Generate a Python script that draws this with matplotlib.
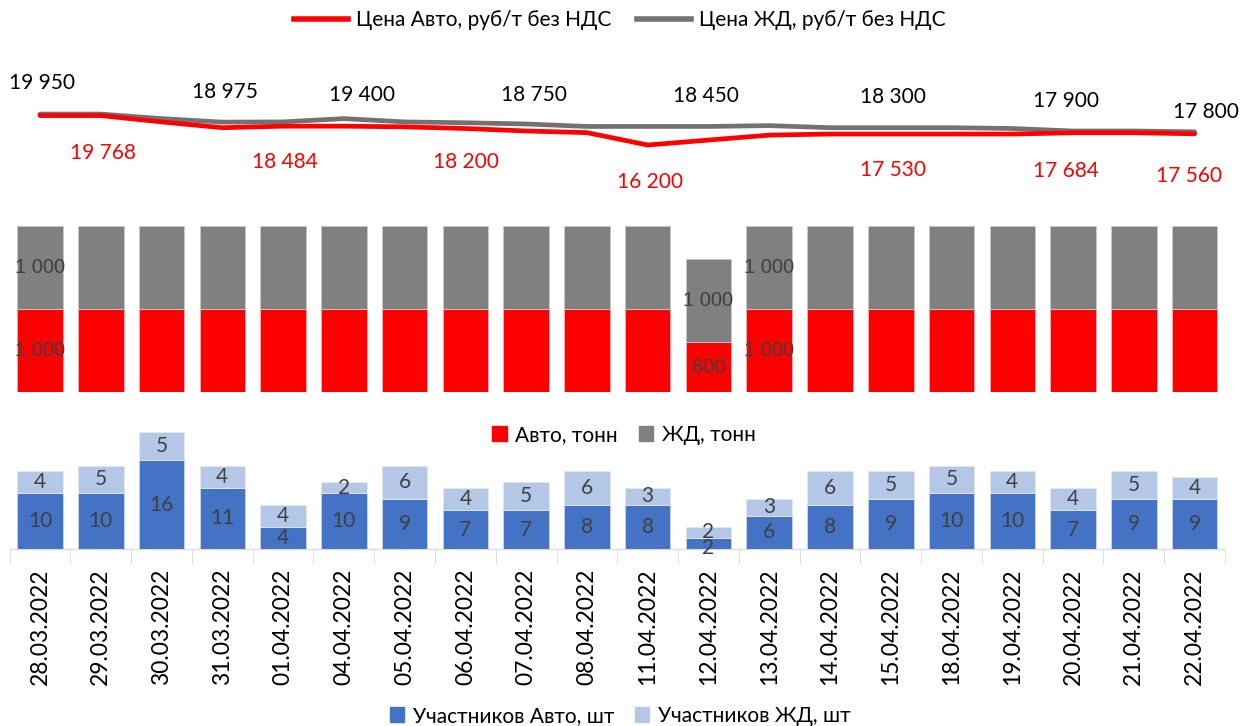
import matplotlib.pyplot as plt
from matplotlib.patches import Patch
from matplotlib.lines import Line2D

plt.rcParams['font.family'] = ['Lato', 'DejaVu Sans']

dates = ['28.03.2022', '29.03.2022', '30.03.2022', '31.03.2022', '01.04.2022',
         '04.04.2022', '05.04.2022', '06.04.2022', '07.04.2022', '08.04.2022',
         '11.04.2022', '12.04.2022', '13.04.2022', '14.04.2022', '15.04.2022',
         '18.04.2022', '19.04.2022', '20.04.2022', '21.04.2022', '22.04.2022']

# price lines, rub/t
price_auto = [19768, 19768, 19000, 18300, 18484, 18484, 18400, 18200, 17900, 17700,
              16200, 16800, 17400, 17530, 17530, 17530, 17530, 17684, 17684, 17560]
price_rail = [19950, 19950, 19400, 18975, 19000, 19400, 19000, 18900, 18750, 18450,
              18450, 18450, 18550, 18300, 18300, 18300, 18200, 17900, 17900, 17800]

# labelled points
auto_lbl_idx = [1, 4, 7, 10, 14, 17, 19]
rail_lbl_idx = [0, 3, 5, 8, 11, 14, 17, 19]

# volumes, t
vol_auto = [1000, 1000, 1000, 1000, 1000, 1000, 1000, 1000, 1000, 1000,
            1000, 600, 1000, 1000, 1000, 1000, 1000, 1000, 1000, 1000]
vol_rail = [1000] * 20
vol_lbl_idx = [0, 11, 12]

# participants
part_auto = [10, 10, 16, 11, 4, 10, 9, 7, 7, 8, 8, 2, 6, 8, 9, 10, 10, 7, 9, 9]
part_rail = [4, 5, 5, 4, 4, 2, 6, 4, 5, 6, 3, 2, 3, 6, 5, 5, 4, 4, 5, 4]

RED = '#FF0000'
GRAY_LINE = '#767171'
GRAY_BAR = '#808080'
BLUE = '#4472C4'
LBLUE = '#B4C7E7'
TXT = '#404040'

W, H = 1258, 726
fig = plt.figure(figsize=(W / 100, H / 100), dpi=100)

def ax_at(top_px, bot_px):
    left, right = 9.6, 1225
    return fig.add_axes([left / W, 1 - bot_px / H, (right - left) / W, (bot_px - top_px) / H])

x = list(range(len(dates)))

# ---- top: prices
ax1 = ax_at(60, 200)
ax1.plot(x, price_auto, color=RED, lw=3.4, solid_capstyle='round', zorder=3)
ax1.plot(x, price_rail, color=GRAY_LINE, lw=3.4, solid_capstyle='round', zorder=2)
ax1.set_ylim(9540, 26500)
ax1.set_xlim(-0.5, len(dates) - 0.5)
ax1.axis('off')

def fmt(v):
    return f'{v:,}'.replace(',', ' ')

rail_off = [(2, 31), (3, 30), (18, 24), (8, 29), (-3, 30), (2, 31), (-7, 30), (11, 20)]
for i, (dx, dy) in zip(rail_lbl_idx, rail_off):
    ax1.annotate(fmt(price_rail[i]), (i, price_rail[i]), xytext=(dx, dy),
                 textcoords='offset pixels', ha='center', va='center',
                 fontsize=15, color='black')
auto_off = [(2, -37), (2, -36), (1, -33), (2, -37), (2, -36), (-7, -38), (-6, -42)]
for i, (dx, dy) in zip(auto_lbl_idx, auto_off):
    ax1.annotate(fmt(price_auto[i]), (i, price_auto[i]), xytext=(dx, dy),
                 textcoords='offset pixels', ha='center', va='center',
                 fontsize=15, color=RED)

# ---- middle: volumes
ax2 = ax_at(210, 392)
ax2.bar(x, vol_auto, width=0.75, color=RED, edgecolor='#F4B0B0', lw=0.6)
ax2.bar(x, vol_rail, width=0.75, bottom=vol_auto, color=GRAY_BAR, edgecolor='#C8C8C8', lw=0.6)
ax2.set_ylim(0, 2193)
ax2.set_xlim(-0.5, len(dates) - 0.5)
ax2.axis('off')
for i in vol_lbl_idx:
    ax2.text(i, vol_auto[i] / 2, fmt(vol_auto[i]), ha='center', va='center',
             fontsize=14.5, color=TXT, family='Liberation Sans')
    ax2.text(i, vol_auto[i] + vol_rail[i] / 2, fmt(vol_rail[i]), ha='center', va='center',
             fontsize=14.5, color=TXT, family='Liberation Sans')

# ---- bottom: participants
ax3 = ax_at(420, 549)
ax3.bar(x, part_auto, width=0.75, color=BLUE, edgecolor='#C9D5EE', lw=0.6)
ax3.bar(x, part_rail, width=0.75, bottom=part_auto, color=LBLUE, edgecolor='#E3EAF6', lw=0.6)
ax3.set_ylim(0, 23.2)
ax3.set_xlim(-0.5, len(dates) - 0.5)
for i in x:
    # tiny segments: label sits lower, as in the source
    ya = part_auto[i] / 2 if part_auto[i] > 2 else 0.1
    ax3.text(i, ya, str(part_auto[i]), ha='center', va='center',
             fontsize=15, color=TXT)
    ax3.text(i, part_auto[i] + part_rail[i] / 2, str(part_rail[i]), ha='center', va='center',
             fontsize=15, color=TXT)
for s in ['top', 'left', 'right']:
    ax3.spines[s].set_visible(False)
ax3.spines['bottom'].set_color('#D9D9D9')
ax3.set_yticks([])
ax3.set_xticks(x)
ax3.set_xticklabels(dates, rotation=90, fontsize=16.5, color='black')
ax3.tick_params(axis='x', which='major', length=0, pad=14)
ax3.set_xticks([i - 0.5 for i in range(len(dates) + 1)], minor=True)
ax3.tick_params(axis='x', which='minor', length=11, color='#D9D9D9')

# ---- legends
fig.legend(handles=[Line2D([], [], color=RED, lw=4), Line2D([], [], color=GRAY_LINE, lw=4)],
           labels=['Цена Авто, руб/т без НДС', 'Цена ЖД, руб/т без НДС'],
           loc='center', bbox_to_anchor=(620 / W, 1 - 20 / H), ncol=2, frameon=False,
           fontsize=15, handlelength=2.6, columnspacing=1.2, handletextpad=0.4)
fig.legend(handles=[Patch(color=RED), Patch(color=GRAY_BAR)],
           labels=['Авто, тонн', 'ЖД, тонн'],
           loc='center', bbox_to_anchor=(624 / W, 1 - 435 / H), ncol=2, frameon=False,
           fontsize=15, handlelength=0.7, handleheight=0.7, columnspacing=1.0, handletextpad=0.4)
fig.legend(handles=[Patch(color=BLUE), Patch(color=LBLUE)],
           labels=['Участников Авто, шт', 'Участников ЖД, шт'],
           loc='center', bbox_to_anchor=(620 / W, 1 - 716 / H), ncol=2, frameon=False,
           fontsize=15, handlelength=0.7, handleheight=0.7, columnspacing=1.0, handletextpad=0.4)

fig.savefig('out.png', dpi=100)
